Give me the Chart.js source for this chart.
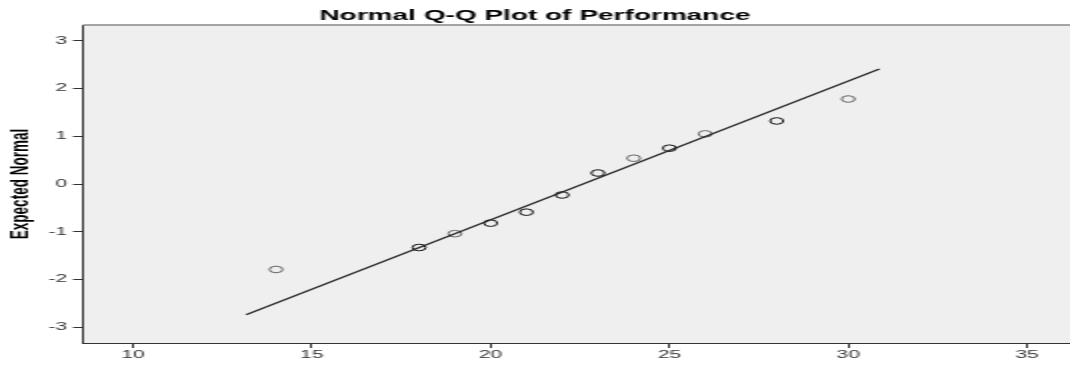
<!DOCTYPE html>
<html>
<head>
<meta charset="utf-8">
<script src="https://cdn.jsdelivr.net/npm/chart.js@4/dist/chart.umd.min.js"></script>
<style>
  html, body { margin: 0; padding: 0; background: #fff; }
  #qq { display: block; }
</style>
</head>
<body>
<!-- drawn at half width and stretched, like the original SPSS export -->
<canvas id="qq" width="535" height="374" style="width:1070px;height:374px"></canvas>
<script>
// observed values and expected normal
const observed = [14, 18, 19, 20, 21, 22, 23, 24, 25, 26, 28, 30];
const expected = [-1.79, -1.33, -1.04, -0.82, -0.59, -0.23, 0.23, 0.54, 0.75, 1.05, 1.32, 1.78];
// how many cases sit on each point (ties draw darker)
const counts = [1, 2, 1, 2, 2, 2, 2, 1, 2, 1, 2, 1];

// reference line ends
const lineX = [13.16, 30.87];
const lineY = [-2.74, 2.41];

const xTicks = [10, 15, 20, 25, 30, 35];
const yTicks = [-3, -2, -1, 0, 1, 2, 3];

const font = "'Liberation Sans', Arial, sans-serif";

const plotBg = {
    id: 'plotBg',
    beforeDraw(chart) {
        const a = chart.chartArea;
        const ctx = chart.ctx;
        ctx.save();
        ctx.fillStyle = '#efefef';
        ctx.fillRect(a.left, a.top, a.right - a.left, a.bottom - a.top);
        ctx.restore();
    },
    afterDraw(chart) {
        const a = chart.chartArea;
        const ctx = chart.ctx;
        ctx.save();
        ctx.strokeStyle = '#888';
        ctx.lineWidth = 1.5;
        ctx.beginPath();
        ctx.moveTo(a.left, a.top);
        ctx.lineTo(a.right, a.top);
        ctx.stroke();
        ctx.restore();
    }
};

const points = observed.map((v, i) => ({ x: v, y: expected[i] }));
const line = lineX.map((v, i) => ({ x: v, y: lineY[i] }));

const chart = new Chart(document.getElementById('qq'), {
    type: 'scatter',
    data: {
        datasets: [{
            type: 'line',
            data: line,
            borderColor: '#222',
            borderWidth: 1.2,
            pointRadius: 0,
            fill: false
        }, {
            data: points,
            pointStyle: 'circle',
            pointRadius: 3.3,
            pointBorderWidth: 1,
            pointBackgroundColor: 'rgba(0,0,0,0)',
            pointBorderColor: counts.map(c => c > 1 ? '#111' : '#666')
        }]
    },
    options: {
        responsive: false,
        devicePixelRatio: 1,
        animation: false,
        layout: { padding: 0, autoPadding: false },
        plugins: {
            legend: { display: false },
            tooltip: { enabled: false },
            title: {
                display: true,
                text: 'Normal Q-Q Plot of Performance',
                color: '#000',
                font: { family: font, size: 14, weight: 'bold' },
                padding: { top: 7.5, bottom: 0.7 }
            }
        },
        scales: {
            x: {
                type: 'linear',
                min: 8.6,
                max: 36.2,
                afterBuildTicks: s => { s.ticks = xTicks.map(v => ({ value: v })); },
                afterFit: s => { s.height = 31; s.paddingLeft = 0; s.paddingRight = 0; },
                grid: { drawOnChartArea: false, drawTicks: true, tickLength: 5, color: '#333' },
                border: { display: true, color: '#333', width: 1 },
                ticks: { color: '#333', padding: 1, font: { family: font, size: 10.5 } }
            },
            y: {
                type: 'linear',
                min: -3.33,
                max: 3.33,
                afterBuildTicks: s => { s.ticks = yTicks.map(v => ({ value: v })); },
                afterFit: s => { s.width = 41.5; s.paddingTop = 0; s.paddingBottom = 0; },
                grid: { drawOnChartArea: false, drawTicks: true, tickLength: 5, color: '#333' },
                border: { display: true, color: '#333', width: 1 },
                ticks: { color: '#333', padding: 3, font: { family: font, size: 10.5 } },
                title: {
                    display: true,
                    text: 'Expected Normal',
                    color: '#000',
                    font: { family: font, size: 13.5, weight: 'bold' },
                    padding: { top: 2, bottom: 0 }
                }
            }
        }
    },
    plugins: [plotBg]
});
</script>
</body>
</html>
